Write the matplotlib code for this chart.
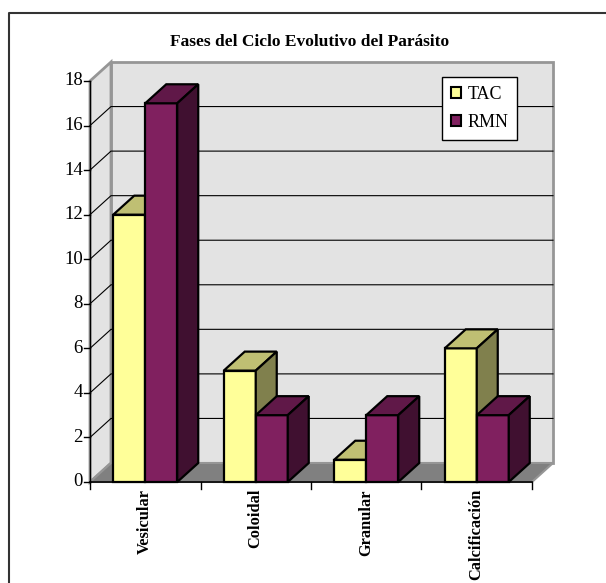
import matplotlib
matplotlib.use("Agg")
import matplotlib.pyplot as plt
from matplotlib.patches import Polygon, Patch
from matplotlib.lines import Line2D

plt.rcParams['font.family'] = ['Liberation Serif', 'DejaVu Serif']

# data
categories = ['Vesicular', 'Coloidal', 'Granular', 'Calcificación']
tac = [12, 5, 1, 6]
rmn = [17, 3, 3, 3]
series_names = ['TAC', 'RMN']
y_ticks = list(range(0, 19, 2))

W, H = 606, 583
fig = plt.figure(figsize=(W / 100, H / 100), dpi=100)
ax = fig.add_axes([0, 0, 1, 1])
ax.set_axis_off()

# pixel layout of the front plane
x0_px, x1_px = 90, 532
y0_px, y1_px = 482, 81          # from the top
ymax = 18
ncat = len(categories)
px_cat = (x1_px - x0_px) / ncat
px_val = (y0_px - y1_px) / ymax
ax.set_xlim(-x0_px / px_cat, ncat + (W - x1_px) / px_cat)
ax.set_ylim(-(H - y0_px) / px_val, ymax + y1_px / px_val)

# depth offset of the 3d box
DX = 21 / px_cat
DY = 19 / px_val
bar_w = 32 / px_cat

wall = '#e3e3e3'
edge_gray = '#969696'

# back wall, side wall, floor
ax.add_patch(Polygon([(DX, DY), (ncat + DX, DY), (ncat + DX, ymax + DY), (DX, ymax + DY)],
                     closed=True, fc=wall, ec=edge_gray, lw=2, zorder=1))
ax.add_patch(Polygon([(0, 0), (DX, DY), (DX, ymax + DY), (0, ymax)],
                     closed=True, fc=wall, ec=edge_gray, lw=2, zorder=1))

for v in y_ticks[1:-1]:
    ax.plot([0, DX, ncat + DX], [v, v + DY, v + DY], color='black', lw=0.8, zorder=2)

ax.add_patch(Polygon([(0, 0), (ncat, 0), (ncat + DX, DY), (DX, DY)],
                     closed=True, fc='#808080', ec=edge_gray, lw=1.5, zorder=2))

# axes lines and ticks
ax.plot([0, 0], [0, ymax], color='black', lw=1, zorder=3)
ax.plot([0, ncat], [0, 0], color='black', lw=1.2, zorder=3)
tick_dx = 6 / px_cat
tick_dy = 7 / px_val
for v in y_ticks:
    ax.plot([-tick_dx, 0], [v, v], color='black', lw=1, zorder=3)
    ax.text(-tick_dx - 1 / px_cat, v, str(v), ha='right', va='center', fontsize=13.5)
for i in range(ncat + 1):
    ax.plot([i, i], [0, -tick_dy], color='black', lw=1, zorder=3)


def bar3d(x, h, front, top, side):
    ax.add_patch(Polygon([(x, 0), (x + bar_w, 0), (x + bar_w, h), (x, h)],
                         closed=True, fc=front, ec='black', lw=1.6, zorder=4))
    ax.add_patch(Polygon([(x, h), (x + bar_w, h), (x + bar_w + DX, h + DY), (x + DX, h + DY)],
                         closed=True, fc=top, ec='black', lw=1.6, zorder=4))
    ax.add_patch(Polygon([(x + bar_w, 0), (x + bar_w + DX, DY), (x + bar_w + DX, h + DY), (x + bar_w, h)],
                         closed=True, fc=side, ec='black', lw=1.6, zorder=4))


tac_cols = ('#ffff99', '#bfbf73', '#80804d')
rmn_cols = ('#80205f', '#601848', '#401030')
for i in range(ncat):
    c = i + 0.5
    bar3d(c - bar_w, tac[i], *tac_cols)
    bar3d(c, rmn[i], *rmn_cols)
    ax.text(c, -7 / px_val, categories[i], rotation=90, ha='center', va='top',
            fontsize=11.8, fontweight='bold')

fig.text(310 / W, 1 - 42 / H, 'Fases del Ciclo Evolutivo del Parásito',
         ha='center', va='center', fontsize=12.5, fontweight='bold')

handles = [Patch(fc=tac_cols[0], ec='black', lw=1.5),
           Patch(fc=rmn_cols[0], ec='black', lw=1.5)]
leg = ax.legend(handles, series_names, loc='upper left',
                bbox_to_anchor=(442 / W, 1 - 77 / H), bbox_transform=fig.transFigure,
                borderaxespad=0, fontsize=13, handlelength=0.55, handleheight=0.55,
                handletextpad=0.35, labelspacing=0.6, borderpad=0.5, fancybox=False,
                framealpha=1, edgecolor='black')
leg.get_frame().set_linewidth(1)
leg.set_zorder(6)

# outer chart frame (top and left edges)
fig.add_artist(Line2D([9 / W, 9 / W, 1], [0, 1 - 13 / H, 1 - 13 / H],
                      transform=fig.transFigure, color='#333333', lw=1.5))

fig.savefig('out.png', dpi=100)
